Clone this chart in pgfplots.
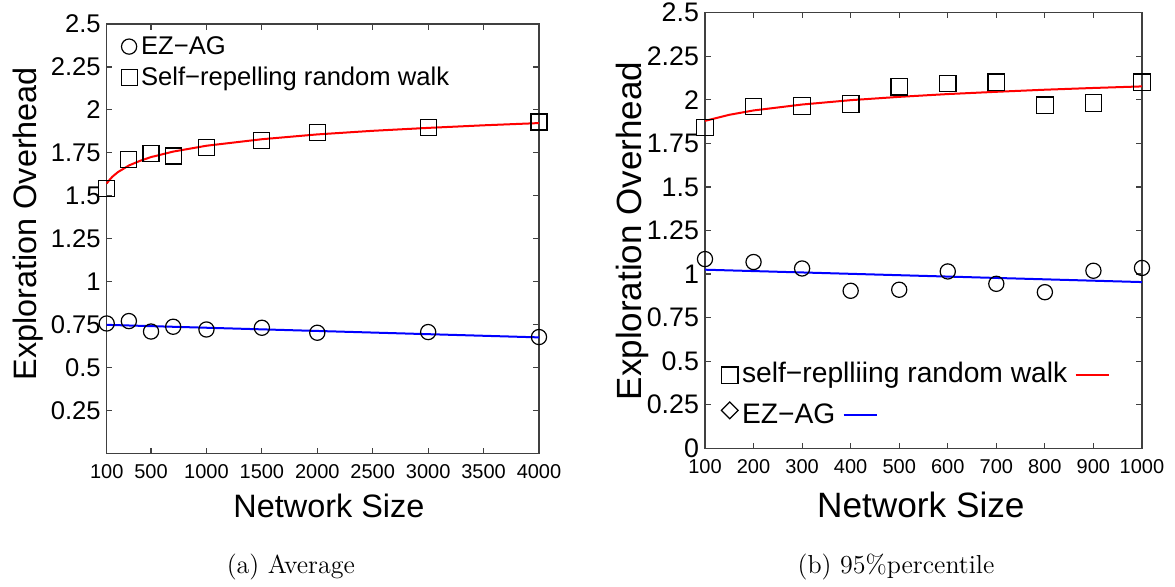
\documentclass[border=0pt]{standalone}
\usepackage{pgfplots}
\pgfplotsset{compat=1.18}
\usepackage{fontspec}
\newfontfamily\arial{Liberation Sans}
\definecolor{axgray}{RGB}{64,64,64}
\pgfplotsset{
  myaxis/.style={
    scale only axis, clip=false,
    axis line style={axgray, line width=0.6pt},
    every tick/.style={axgray, line width=0.6pt},
    major tick length=2.8pt, tick align=inside,
    scaled ticks=false,
    xticklabel style={font=\fontsize{10}{12}\arial, inner sep=0pt, yshift=-5.5pt},
    yticklabel style={inner sep=0pt, xshift=-2.8pt},
    legend cell align=left,
  },
  mk/.style={black, line width=0.6pt},
  legimg/.style={legend image code/.code={\draw[##1] plot coordinates {(0pt,#1)};}},
}
\begin{document}
\begin{tikzpicture}
\path (0,0) rectangle (587.5pt,290pt);

% ---------------- (a) Average ----------------
\begin{axis}[myaxis,
  at={(53.35pt,63.35pt)}, anchor=south west,
  width=216.15pt, height=214.65pt,
  xmin=100, xmax=4000, ymin=0, ymax=2.5,
  xtick={100,500,1000,1500,2000,2500,3000,3500,4000},
  xticklabels={100,500,1000,1500,2000,2500,3000,3500,4000},
  ytick={0.25,0.5,0.75,1,1.25,1.5,1.75,2,2.25,2.5},
  yticklabels={0.25,0.5,0.75,1,1.25,1.5,1.75,2,2.25,2.5},
  yticklabel style={font=\fontsize{12.8}{14}\arial},
  xlabel={Network Size}, ylabel={Exploration Overhead},
  xlabel style={font=\fontsize{16.2}{18}\arial, at={(axis description cs:0.514,0)}, anchor=base, yshift=-32pt, inner sep=0pt},
  ylabel style={font=\fontsize{16.2}{18}\arial, at={(axis description cs:-0.1635,0.535)}, anchor=base, inner sep=0pt},
  legend style={at={(axis description cs:0.0324,0.976)}, anchor=north west, draw=none, fill=none,
    font=\fontsize{12.8}{15}\arial, inner sep=0pt, row sep=2.35pt, column sep=2pt,
    nodes={inner sep=0pt, text height=10pt, text depth=3pt}},
  legimg=0.55pt,
]
\addplot[red, line width=1pt, no marks, forget plot] coordinates {
(100,1.571)(120,1.588)(150,1.610)(200,1.637)(300,1.676)(400,1.703)(500,1.725)(700,1.757)
(1000,1.791)(1500,1.829)(2000,1.857)(2500,1.878)(3000,1.895)(3500,1.910)(4000,1.923)};
\addplot[blue, line width=1pt, no marks, forget plot] coordinates {(100,0.748)(4000,0.675)};
\addplot[mk, only marks, mark=o, mark size=3.8pt] coordinates {
(100,0.756)(300,0.770)(500,0.709)(700,0.737)(1000,0.721)(1500,0.731)(2000,0.702)(3000,0.706)(4000,0.677)};
\addlegendentry{EZ−AG}
\addplot[mk, only marks, mark=square, mark size=4pt] coordinates {
(100,1.542)(300,1.711)(500,1.746)(700,1.731)(1000,1.782)(1500,1.821)(2000,1.869)(3000,1.896)(4000,1.929)};
\addlegendentry{Self−repelling random walk}
\end{axis}

% ---------------- (b) 95% percentile ----------------
\begin{axis}[myaxis,
  at={(352.5pt,65.85pt)}, anchor=south west,
  width=218.5pt, height=217.8pt,
  xmin=100, xmax=1000, ymin=0, ymax=2.5,
  xtick={100,200,300,400,500,600,700,800,900,1000},
  xticklabels={100,200,300,400,500,600,700,800,900,1000},
  ytick={0,0.25,0.5,0.75,1,1.25,1.5,1.75,2,2.25,2.5},
  yticklabels={0,0.25,0.5,0.75,1,1.25,1.5,1.75,2,2.25,2.5},
  yticklabel style={font=\fontsize{13.4}{15}\arial},
  xlabel={Network Size}, ylabel={Exploration Overhead},
  xlabel style={font=\fontsize{17.6}{20}\arial, at={(axis description cs:0.494,0)}, anchor=base, yshift=-34.5pt, inner sep=0pt},
  ylabel style={font=\fontsize{17.5}{20}\arial, at={(axis description cs:-0.1449,0.499)}, anchor=base, inner sep=0pt},
  legend style={at={(axis description cs:0.0366,0.2034)}, anchor=north west, draw=none, fill=none,
    font=\fontsize{14.1}{16}\arial, inner sep=0pt, row sep=6pt, column sep=2pt,
    nodes={inner sep=0pt, text height=11pt, text depth=3.5pt}},
]
\addplot[red, line width=1pt, no marks, forget plot] coordinates {
(100,1.879)(150,1.914)(200,1.939)(300,1.973)(400,1.998)(500,2.017)(600,2.033)(700,2.046)(800,2.058)(900,2.068)(1000,2.077)};
\addplot[blue, line width=1pt, no marks, forget plot] coordinates {(100,1.025)(1000,0.954)};
\addplot[mk, only marks, mark=o, mark size=3.8pt, forget plot] coordinates {
(100,1.086)(200,1.069)(300,1.032)(400,0.904)(500,0.910)(600,1.015)(700,0.944)(800,0.896)(900,1.019)(1000,1.035)};
\addplot[mk, only marks, mark=square, mark size=4.15pt, forget plot] coordinates {
(100,1.841)(200,1.962)(300,1.965)(400,1.975)(500,2.075)(600,2.094)(700,2.100)(800,1.969)(900,1.981)(1000,2.100)};
\addlegendimage{mk, only marks, mark=square, mark size=4.15pt, legimg=-0.4pt}
\addlegendentry{self−replliing random walk\hspace{4.2pt}\textcolor{red}{\rule[2.85pt]{16.5pt}{1pt}}}
\addlegendimage{mk, only marks, mark=square, mark size=2.95pt, mark options={rotate=45}, legimg=2.6pt}
\addlegendentry{EZ−AG\hspace{4.2pt}\textcolor{blue}{\rule[3.35pt]{16.5pt}{1pt}}}
\end{axis}

\node[font=\fontsize{13}{15}\selectfont, anchor=base] at (145.4pt,3.35pt) {(a) Average};
\node[font=\fontsize{13}{15}\selectfont, anchor=base] at (448pt,3.35pt) {(b) 95\%percentile};
\end{tikzpicture}
\end{document}
